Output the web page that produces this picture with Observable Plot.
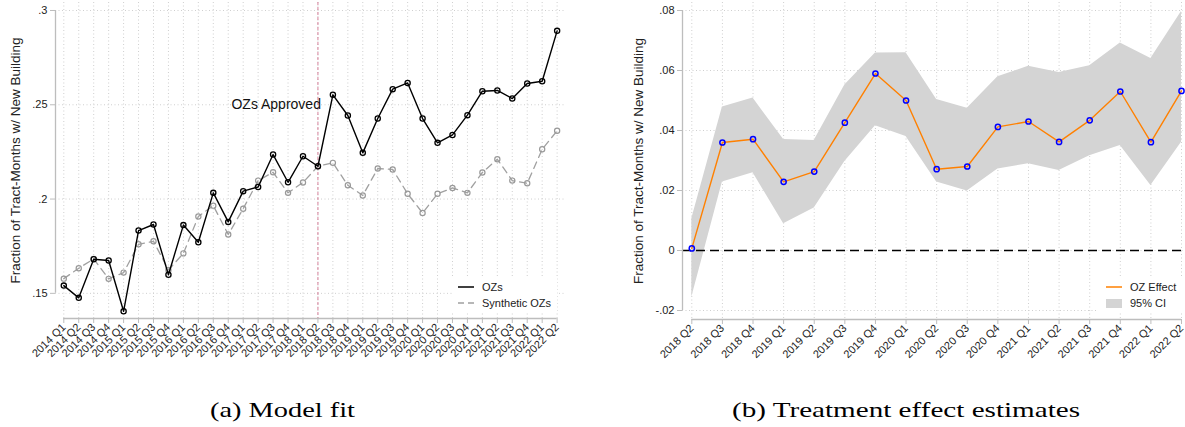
<!DOCTYPE html>
<html>
<head>
<meta charset="utf-8">
<script src="https://cdn.jsdelivr.net/npm/d3@7"></script>
<script src="https://cdn.jsdelivr.net/npm/@observablehq/plot@0.6"></script>
<style>
  html, body { margin: 0; padding: 0; background: #fff; }
  #wrap { position: relative; width: 1185px; height: 427px; background: #fff; font-family: "Liberation Sans", Arial, sans-serif; overflow: hidden; }
  .panel { position: absolute; top: 0; }
  .legend { position: absolute; background: #fff; font-size: 11px; color: #222; }
  .legend .row { position: absolute; left: 0; height: 14px; display: flex; align-items: center; white-space: nowrap; }
  .legend svg { display: block; margin-right: 8px; }
  #captions { position: absolute; left: 0; top: 0; }
</style>
</head>
<body>
<div id="wrap">
  <div id="left" class="panel" style="left:0px"></div>
  <div id="right" class="panel" style="left:600px"></div>
  <div class="legend" style="left:452px;top:278px;width:105px;height:35px">
    <div class="row" style="left:6px;top:2px"><svg width="16" height="4"><line x1="0" x2="16" y1="2" y2="2" stroke="#000" stroke-width="1.5"/></svg>OZs</div>
    <div class="row" style="left:6px;top:18px"><svg width="16" height="4"><line x1="0" x2="16" y1="2" y2="2" stroke="#a0a0a0" stroke-width="1.3" stroke-dasharray="6,4"/></svg>Synthetic OZs</div>
  </div>
  <div class="legend" style="left:1098px;top:278px;width:85px;height:35px">
    <div class="row" style="left:8px;top:2px"><svg width="16" height="4"><line x1="0" x2="16" y1="2" y2="2" stroke="#ff8000" stroke-width="1.5"/></svg>OZ Effect</div>
    <div class="row" style="left:8px;top:18px"><svg width="16" height="9"><rect x="0" y="0" width="16" height="9" fill="#d4d4d4"/></svg>95% CI</div>
  </div>
  <svg id="captions" width="1185" height="427">
    <text x="210" y="416.5" font-family="Liberation Serif, Times New Roman, serif" font-size="22" fill="#000" textLength="145" lengthAdjust="spacingAndGlyphs">(a) Model fit</text>
    <text x="732" y="416.5" font-family="Liberation Serif, Times New Roman, serif" font-size="22" fill="#000" textLength="348" lengthAdjust="spacingAndGlyphs">(b) Treatment effect estimates</text>
  </svg>
</div>
<script>
// ---------------- data ----------------
const quarters = [
  "2014 Q1","2014 Q2","2014 Q3","2014 Q4",
  "2015 Q1","2015 Q2","2015 Q3","2015 Q4",
  "2016 Q1","2016 Q2","2016 Q3","2016 Q4",
  "2017 Q1","2017 Q2","2017 Q3","2017 Q4",
  "2018 Q1","2018 Q2","2018 Q3","2018 Q4",
  "2019 Q1","2019 Q2","2019 Q3","2019 Q4",
  "2020 Q1","2020 Q2","2020 Q3","2020 Q4",
  "2021 Q1","2021 Q2","2021 Q3","2021 Q4",
  "2022 Q1","2022 Q2"
];
const ozs = [
  0.1541, 0.1476, 0.1681, 0.1674,
  0.1405, 0.1833, 0.1865, 0.1599,
  0.1862, 0.1771, 0.2033, 0.1879,
  0.2042, 0.2064, 0.2236, 0.2089,
  0.2227, 0.2174, 0.2553, 0.2443,
  0.2245, 0.2427, 0.2583, 0.2616,
  0.2427, 0.2298, 0.2340, 0.2445,
  0.2572, 0.2576, 0.2533, 0.2613,
  0.2625, 0.2892
];
const syntheticOzs = [
  0.1578, 0.1633, 0.1683, 0.1577,
  0.1610, 0.1760, 0.1776, 0.1624,
  0.1712, 0.1908, 0.1965, 0.1812,
  0.1949, 0.2098, 0.2142, 0.2033,
  0.2088, 0.2174, 0.2192, 0.2073,
  0.2019, 0.2162, 0.2157, 0.2028,
  0.1926, 0.2028, 0.2059, 0.2033,
  0.2141, 0.2211, 0.2098, 0.2084,
  0.2264, 0.2362
];
const approvalQuarter = "2018 Q2";
const effectQuarters = [
  "2018 Q2","2018 Q3","2018 Q4","2019 Q1","2019 Q2","2019 Q3","2019 Q4",
  "2020 Q1","2020 Q2","2020 Q3","2020 Q4","2021 Q1","2021 Q2","2021 Q3",
  "2021 Q4","2022 Q1","2022 Q2"
];
const ozEffect = [0.0007, 0.0360, 0.0371, 0.0229, 0.0263, 0.0426, 0.0590,
  0.0500, 0.0271, 0.0280, 0.0412, 0.0430, 0.0362, 0.0434, 0.0530, 0.0361, 0.0532];
const ciLow = [-0.0156, 0.0228, 0.0259, 0.0089, 0.0142, 0.0297, 0.0416,
  0.0380, 0.0228, 0.0198, 0.0272, 0.0289, 0.0267, 0.0316, 0.0350, 0.0217, 0.0361];
const ciHigh = [0.0106, 0.0478, 0.0508, 0.0370, 0.0367, 0.0552, 0.0658,
  0.0659, 0.0503, 0.0474, 0.0579, 0.0614, 0.0593, 0.0616, 0.0692, 0.0640, 0.0797];
const yTicksA = [0.15, 0.2, 0.25, 0.3];
const yTicksB = [-0.02, 0, 0.02, 0.04, 0.06, 0.08];
const yLabel = "Fraction of Tract-Months w/ New Building";
const annotation = "OZs Approved";

// ---------------- helpers ----------------
const fmt = d => d === 0 ? "0" : String(+d.toFixed(3)).replace("0.", ".");
const gridColor = "#cfcfcf";
const axisColor = "#bdbdbd";
const textColor = "#222";
const FONT = "Liberation Sans, Arial, sans-serif";

// ---------------- left panel ----------------
const idxA = quarters.map((_, i) => i);
const rowsA = quarters.map((q, i) => ({i, q, oz: ozs[i], syn: syntheticOzs[i]}));
const xDomA = [-0.555, 33.56];
const yDomA = [0.13666, 0.30424];
const approvalIdx = quarters.indexOf(approvalQuarter);

const left = Plot.plot({
  width: 592, height: 375,
  marginTop: 2, marginBottom: 57, marginLeft: 55, marginRight: 27,
  style: {fontFamily: FONT, background: "transparent", overflow: "visible"},
  x: {type: "linear", domain: xDomA},
  y: {domain: yDomA},
  marks: [
    Plot.gridY(yTicksA, {stroke: gridColor, strokeOpacity: 1, strokeDasharray: "1,2.5"}),
    Plot.gridX(idxA, {stroke: gridColor, strokeOpacity: 1, strokeDasharray: "1,2.5"}),
    Plot.ruleX([approvalIdx], {stroke: "#d8829c", strokeWidth: 1, strokeDasharray: "3,2"}),
    Plot.line(rowsA, {x: "i", y: "syn", stroke: "#a0a0a0", strokeWidth: 1.3, strokeDasharray: "7,5"}),
    Plot.dot(rowsA, {x: "i", y: "syn", r: 2.6, stroke: "#999", strokeWidth: 1.2, fill: "none"}),
    Plot.line(rowsA, {x: "i", y: "oz", stroke: "#000", strokeWidth: 1.4}),
    Plot.dot(rowsA, {x: "i", y: "oz", r: 2.6, stroke: "#000", strokeWidth: 1.3, fill: "none"}),
    Plot.ruleX([xDomA[0]], {y1: yTicksA[0], y2: yTicksA[yTicksA.length - 1], stroke: axisColor, strokeWidth: 1.3}),
    Plot.ruleY([yDomA[0]], {x1: 0, x2: idxA[idxA.length - 1], stroke: axisColor, strokeWidth: 1.3}),
    Plot.axisY(yTicksA, {tickFormat: fmt, fontSize: 11, tickSize: 5, tickPadding: 3, stroke: axisColor, fill: textColor, label: null}),
    Plot.axisX(idxA, {tickFormat: i => quarters[i], tickRotate: -45, fontSize: 11, tickSize: 5, tickPadding: 2, stroke: axisColor, fill: textColor, label: null}),
    Plot.text([yLabel], {frameAnchor: "left", textAnchor: "middle", rotate: -90, dx: -40, fontSize: 13.5, fill: textColor}),
    Plot.text([annotation], {x: approvalIdx, y: yTicksA[2], textAnchor: "end", dx: 3, fontSize: 14, fill: "#111"})
  ]
});
document.getElementById("left").appendChild(left);

// ---------------- right panel ----------------
const idxB = effectQuarters.map((_, i) => i);
const rowsB = effectQuarters.map((q, i) => ({i, q, eff: ozEffect[i], lo: ciLow[i], hi: ciHigh[i]}));
const xDomB = [-0.304, 16.065];
const yDomB = [-0.023, 0.08267];

const right = Plot.plot({
  width: 585, height: 375,
  marginTop: 2, marginBottom: 56, marginLeft: 82, marginRight: 2,
  style: {fontFamily: FONT, background: "transparent", overflow: "visible"},
  x: {type: "linear", domain: xDomB},
  y: {domain: yDomB},
  marks: [
    Plot.gridY(yTicksB, {stroke: gridColor, strokeOpacity: 1, strokeDasharray: "1,2.5"}),
    Plot.gridX(idxB, {stroke: gridColor, strokeOpacity: 1, strokeDasharray: "1,2.5"}),
    Plot.areaY(rowsB, {x: "i", y1: "lo", y2: "hi", fill: "#d4d4d4"}),
    Plot.ruleY([0], {stroke: "#000", strokeWidth: 1.3, strokeDasharray: "9,5"}),
    Plot.line(rowsB, {x: "i", y: "eff", stroke: "#ff8000", strokeWidth: 1.4}),
    Plot.dot(rowsB, {x: "i", y: "eff", r: 2.6, stroke: "#0000ff", strokeWidth: 1.5, fill: "none"}),
    Plot.ruleX([xDomB[0]], {y1: yTicksB[0], y2: yTicksB[yTicksB.length - 1], stroke: axisColor, strokeWidth: 1.3}),
    Plot.ruleY([yDomB[0]], {x1: 0, x2: idxB[idxB.length - 1], stroke: axisColor, strokeWidth: 1.3}),
    Plot.axisY(yTicksB, {tickFormat: fmt, fontSize: 11, tickSize: 5, tickPadding: 3, stroke: axisColor, fill: textColor, label: null}),
    Plot.axisX(idxB, {tickFormat: i => effectQuarters[i], tickRotate: -45, fontSize: 11, tickSize: 5, tickPadding: 2, stroke: axisColor, fill: textColor, label: null}),
    Plot.text([yLabel], {frameAnchor: "left", textAnchor: "middle", rotate: -90, dx: -44, fontSize: 13.5, fill: textColor})
  ]
});
document.getElementById("right").appendChild(right);
</script>
</body>
</html>
